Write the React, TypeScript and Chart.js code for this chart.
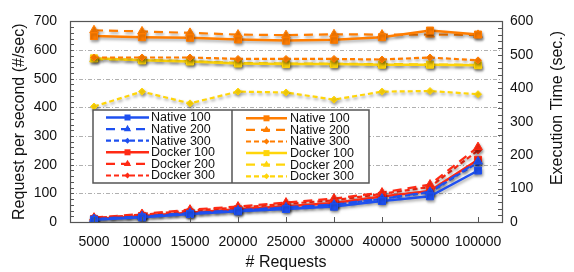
import React, { useEffect, useRef } from "react";
import { Chart, registerables } from "chart.js";

Chart.register(...registerables);

const categories = ["5000", "10000", "15000", "20000", "25000", "30000", "40000", "50000", "100000"];

// Execution time (right axis, sec.)
const etNative100 = [7, 14, 24, 32, 39, 46, 63, 77, 154];
const etNative200 = [9, 17, 27, 35, 44, 52, 70, 90, 181];
const etNative300 = [9, 16, 26, 34, 43, 51, 69, 89, 178];
const etDocker100 = [9, 18, 28, 38, 47, 57, 76, 93, 186];
const etDocker200 = [13, 24, 37, 46, 58, 70, 88, 112, 224];
const etDocker300 = [12, 22, 34, 43, 54, 65, 84, 105, 214];

// Request per second (left axis, #/sec)
const tpNative100 = [649, 645, 643, 637, 633, 636, 645, 668, 654];
const tpNative200 = [669, 665, 660, 654, 652, 655, 654, 654, 653];
const tpNative300 = [574, 574, 574, 569, 569, 569, 567, 574, 564];
const tpDocker100 = [571, 564, 560, 553, 551, 551, 549, 549, 547];
const tpDocker200 = [568, 566, 561, 555, 553, 552, 551, 550, 548];
const tpDocker300 = [403, 455, 414, 455, 452, 427, 455, 457, 446];

const leftTicks = [0, 100, 200, 300, 400, 500, 600, 700];
const rightTicks = [0, 100, 200, 300, 400, 500, 600];

const seriesLabels = [
  "Native 100", "Native 200", "Native 300", "Docker 100", "Docker 200", "Docker 300",
  "Native 100", "Native 200", "Native 300", "Docker 100", "Docker 200", "Docker 300",
];

const BLUE = "#1e50f0";
const RED = "#ff2a14";
const ORANGE = "#ff7d00";
const YELLOW = "#ffd50a";

const FONT = "'Liberation Sans', Arial, Helvetica, sans-serif";

function mk(label: string, data: number[], color: string, kind: number, axis: string) {
  const dash = kind === 0 ? [] : kind === 1 ? [9, 6] : [5, 3];
  const style = kind === 0 ? "rect" : kind === 1 ? "triangle" : "rectRot";
  const radius = kind === 0 ? 5 : kind === 1 ? 5 : 3.5;
  return {
    label,
    data,
    yAxisID: axis,
    borderColor: color,
    backgroundColor: color,
    borderWidth: kind === 0 ? 2.5 : 2.2,
    borderDash: dash,
    pointStyle: style,
    pointRadius: radius,
    pointBackgroundColor: color,
    pointBorderColor: color,
    pointBorderWidth: 1,
    tension: 0,
    fill: false,
  };
}

function drawMarker(ctx: CanvasRenderingContext2D, style: string, x: number, y: number, r: number) {
  ctx.beginPath();
  if (style === "rect") {
    const s = r * Math.SQRT1_2;
    ctx.rect(x - s, y - s, 2 * s, 2 * s);
  } else if (style === "triangle") {
    ctx.moveTo(x, y - r);
    ctx.lineTo(x + r * 0.866, y + r * 0.5);
    ctx.lineTo(x - r * 0.866, y + r * 0.5);
    ctx.closePath();
  } else {
    ctx.moveTo(x, y - r);
    ctx.lineTo(x + r, y);
    ctx.lineTo(x, y + r);
    ctx.lineTo(x - r, y);
    ctx.closePath();
  }
  ctx.fill();
}

const decorPlugin = {
  id: "decor",
  beforeDatasetsDraw(chart: any) {
    const { ctx, chartArea } = chart;
    const y = chart.scales.y;
    ctx.save();
    ctx.strokeStyle = "#b0b0b0";
    ctx.lineWidth = 1;
    ctx.setLineDash([4, 2, 1, 2]);
    leftTicks.forEach((v) => {
      if (v === 0 || v === 700) return;
      const py = Math.round(y.getPixelForValue(v)) + 0.5;
      ctx.beginPath();
      ctx.moveTo(chartArea.left, py);
      ctx.lineTo(chartArea.right, py);
      ctx.stroke();
    });
    ctx.restore();
    // shadow for data marks
    ctx.save();
    ctx.shadowColor = "rgba(0,0,0,0.35)";
    ctx.shadowBlur = 3;
    ctx.shadowOffsetX = 1;
    ctx.shadowOffsetY = 2;
  },
  afterDatasetsDraw(chart: any) {
    const { ctx, chartArea } = chart;
    ctx.restore();
    const { left, right, top, bottom } = chartArea;
    const y = chart.scales.y;
    const y1 = chart.scales.y1;
    const x = chart.scales.x;
    ctx.save();
    ctx.strokeStyle = "#555";
    ctx.lineWidth = 1;
    ctx.setLineDash([]);
    // minor ticks
    ctx.beginPath();
    for (let v = 0; v <= 700; v += 20) {
      const py = Math.round(y.getPixelForValue(v)) + 0.5;
      ctx.moveTo(left, py);
      ctx.lineTo(left + 4, py);
    }
    for (let v = 0; v <= 600; v += 20) {
      const py = Math.round(y1.getPixelForValue(v)) + 0.5;
      ctx.moveTo(right, py);
      ctx.lineTo(right - 4, py);
    }
    categories.forEach((_, i) => {
      const px = Math.round(x.getPixelForValue(i)) + 0.5;
      ctx.moveTo(px, bottom);
      ctx.lineTo(px, bottom - 5);
    });
    ctx.stroke();
    ctx.lineWidth = 1.2;
    ctx.strokeRect(Math.round(left) + 0.5, Math.round(top) + 0.5, Math.round(right - left), Math.round(bottom - top));

    // legend
    const bx = 93, by = 110, bw = 276, bh = 73, sep = 232;
    ctx.fillStyle = "#ffffff";
    ctx.fillRect(bx, by, bw, bh);
    ctx.strokeStyle = "#555";
    ctx.lineWidth = 1.5;
    ctx.strokeRect(bx, by, bw, bh);
    ctx.beginPath();
    ctx.moveTo(sep, by);
    ctx.lineTo(sep, by + bh);
    ctx.stroke();
    ctx.font = `12.5px ${FONT}`;
    ctx.textBaseline = "middle";
    ctx.textAlign = "left";
    chart.data.datasets.forEach((ds: any, i: number) => {
      const col = i < 6 ? 0 : 1;
      const row = i % 6;
      const cy = by + 7.5 + row * 11.6 + (col === 1 ? 0.8 : 0);
      const x0 = col === 0 ? 106 : 246;
      const x1 = col === 0 ? 149 : 287;
      const tx = col === 0 ? 151 : 290;
      ctx.strokeStyle = ds.borderColor;
      ctx.lineWidth = ds.borderWidth;
      ctx.setLineDash(ds.borderDash);
      ctx.beginPath();
      ctx.moveTo(x0, cy);
      ctx.lineTo(x1, cy);
      ctx.stroke();
      ctx.setLineDash([]);
      ctx.fillStyle = ds.borderColor;
      drawMarker(ctx, ds.pointStyle, (x0 + x1) / 2, cy, ds.pointRadius * 0.85);
      ctx.fillStyle = "#111";
      ctx.fillText(ds.label, tx, cy + 0.5);
    });

    // right axis title, reading bottom-to-top
    ctx.save();
    ctx.translate(558, 108);
    ctx.rotate(-Math.PI / 2);
    ctx.font = `16px ${FONT}`;
    ctx.fillStyle = "#111";
    ctx.textAlign = "center";
    ctx.textBaseline = "middle";
    ctx.fillText("Execution Time (sec.)", 0, 0);
    ctx.restore();
    ctx.restore();
  },
};

export default function App() {
  const ref = useRef<HTMLCanvasElement | null>(null);
  useEffect(() => {
    document.body.style.margin = "0";
    document.body.style.background = "#ffffff";
    if (!ref.current) return;
    const chart = new Chart(ref.current, {
      type: "line",
      data: {
        labels: categories,
        datasets: [
          mk(seriesLabels[0], etNative100, BLUE, 0, "y1"),
          mk(seriesLabels[1], etNative200, BLUE, 1, "y1"),
          mk(seriesLabels[2], etNative300, BLUE, 2, "y1"),
          mk(seriesLabels[3], etDocker100, RED, 0, "y1"),
          mk(seriesLabels[4], etDocker200, RED, 1, "y1"),
          mk(seriesLabels[5], etDocker300, RED, 2, "y1"),
          mk(seriesLabels[6], tpNative100, ORANGE, 0, "y"),
          mk(seriesLabels[7], tpNative200, ORANGE, 1, "y"),
          mk(seriesLabels[8], tpNative300, ORANGE, 2, "y"),
          mk(seriesLabels[9], tpDocker100, YELLOW, 0, "y"),
          mk(seriesLabels[10], tpDocker200, YELLOW, 1, "y"),
          mk(seriesLabels[11], tpDocker300, YELLOW, 2, "y"),
        ] as any,
      },
      options: {
        animation: false,
        responsive: false,
        maintainAspectRatio: false,
        layout: { padding: { top: 11, left: 0, right: 0, bottom: 0 } },
        plugins: { legend: { display: false }, tooltip: { enabled: false } },
        scales: {
          x: {
            type: "category",
            offset: true,
            grid: { display: false, drawTicks: false },
            border: { display: false },
            ticks: { font: { size: 14, family: FONT }, color: "#111", padding: 12, maxRotation: 0, autoSkip: false },
            title: { display: true, text: "# Requests", font: { size: 16, family: FONT }, color: "#111", padding: { top: 0, bottom: 0 } },
            afterFit: (s: any) => { s.height = 50; },
          },
          y: {
            position: "left",
            min: 0,
            max: 700,
            grid: { display: false, drawTicks: false },
            border: { display: false },
            ticks: { stepSize: 100, font: { size: 14, family: FONT }, color: "#111", padding: 13 },
            title: { display: true, text: "Request per second (#/sec)", font: { size: 16, family: FONT }, color: "#111", padding: { top: 10, bottom: 0 } },
            afterFit: (s: any) => { s.width = 70; },
          },
          y1: {
            position: "right",
            min: 0,
            max: 600,
            grid: { display: false, drawTicks: false },
            border: { display: false },
            ticks: { stepSize: 100, font: { size: 14, family: FONT }, color: "#111", padding: 8 },
            title: { display: false },
            afterFit: (s: any) => { s.width = 72; },
          },
        },
      } as any,
      plugins: [decorPlugin],
    });
    return () => chart.destroy();
  }, []);
  return (
    <div style={{ position: "absolute", left: 0, top: 0, width: 574, height: 272 }}>
      <canvas ref={ref} width={574} height={272} style={{ width: 574, height: 272 }} />
    </div>
  );
}
